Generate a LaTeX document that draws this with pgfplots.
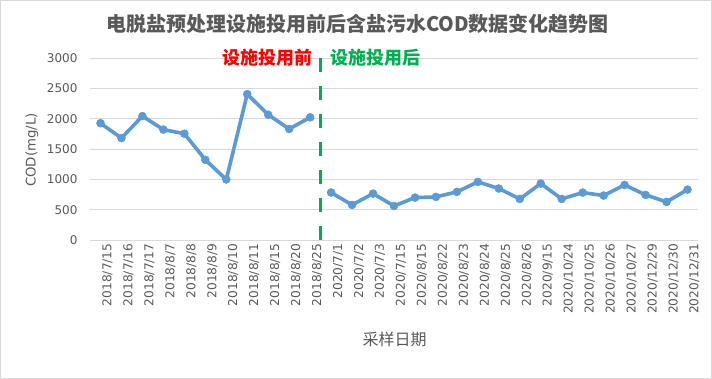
\documentclass[border=0pt]{standalone}
\usepackage{pgfplots}
\pgfplotsset{compat=1.18}
\usepackage{fontspec}
\setmainfont{DejaVu Sans}
\newfontfamily\cjk{Noto Sans CJK SC}
\definecolor{labelgray}{HTML}{595959}
\definecolor{gridgray}{HTML}{D9D9D9}
\definecolor{tickgray}{HTML}{C8C8C8}
\definecolor{lineblue}{HTML}{5B9BD5}
\definecolor{xlgreen}{HTML}{00B050}
\definecolor{xlred}{HTML}{FF0000}
\begin{document}
\begin{tikzpicture}
\useasboundingbox (0,0) rectangle (712pt,379pt);
\draw[gridgray, line width=0.8pt] (0.5pt,0.5pt) rectangle (711.5pt,378.5pt);
\begin{axis}[
  at={(90pt,139pt)}, anchor=south west,
  scale only axis, width=608pt, height=182pt,
  xmin=-0.5, xmax=28.5, ymin=0, ymax=3000,
  clip=false,
  axis x line*=bottom, axis y line*=left,
  x axis line style={draw=gridgray, line width=0.8pt, -},
  y axis line style={draw=none},
  ytick={0,500,...,3000},
  ytick style={draw=none},
  ymajorgrids, grid style={draw=gridgray, line width=0.8pt},
  /pgf/number format/assume math mode=true,
  /pgf/number format/1000 sep={},
  yticklabel style={font=\fontsize{12}{13}\selectfont, text=labelgray, xshift=-9pt},
  xtick={0,...,28},
  xtick style={draw=none},
  xticklabels={2018/7/15,2018/7/16,2018/7/17,2018/8/7,2018/8/8,2018/8/9,2018/8/10,2018/8/11,2018/8/15,2018/8/20,2018/8/25,2020/7/1,2020/7/2,2020/7/3,2020/7/15,2020/8/15,2020/8/22,2020/8/23,2020/8/24,2020/8/25,2020/8/26,2020/9/15,2020/10/24,2020/10/25,2020/10/26,2020/10/27,2020/12/29,2020/12/30,2020/12/31},
  xticklabel style={rotate=90, anchor=east, font=\fontsize{12.2}{13}\selectfont, text=labelgray, yshift=-7pt},
  extra x ticks={-0.5,0.5,...,28.5},
  extra x tick labels={},
  extra x tick style={tick align=outside, major tick length=5pt, tick style={draw=tickgray, line width=0.8pt}, grid=none},
]
\addplot[color=lineblue, line width=3.6pt, line join=round, mark=*, mark size=4pt, mark options={solid, fill=lineblue, draw=lineblue, line width=0.5pt}]
  coordinates {(0,1925) (1,1680) (2,2042) (3,1820) (4,1752) (5,1322) (6,998) (7,2405) (8,2065) (9,1830) (10,2022)};
\addplot[color=lineblue, line width=3.6pt, line join=round, mark=*, mark size=4pt, mark options={solid, fill=lineblue, draw=lineblue, line width=0.5pt}]
  coordinates {(11,782) (12,578) (13,765) (14,561) (15,699) (16,710) (17,793) (18,958) (19,848) (20,677) (21,930) (22,677) (23,782) (24,732) (25,908) (26,743) (27,628) (28,831)};
\addplot[color=xlgreen, line width=3pt, dash pattern=on 14pt off 14pt, forget plot]
  coordinates {(10.5,3000) (10.5,0)};
\node[anchor=east, text=xlred, font=\cjk\bfseries\fontsize{18}{20}\selectfont, inner sep=0pt, xshift=-8pt] at (axis cs:10.5,3000) {设施投用前};
\node[anchor=west, text=xlgreen, font=\cjk\bfseries\fontsize{18}{20}\selectfont, inner sep=0pt, xshift=10pt] at (axis cs:10.5,3000) {设施投用后};
\end{axis}
\node[text=labelgray, font=\cjk\bfseries\fontsize{20}{22}\selectfont, inner sep=0pt] at (357.5pt,355pt) {电脱盐预处理设施投用前后含盐污水COD数据变化趋势图};
\node[text=labelgray, font=\cjk\fontsize{16}{18}\selectfont, inner sep=0pt] at (394.5pt,40pt) {采样日期};
\node[text=labelgray, font=\fontsize{13.3}{15}\selectfont, inner sep=0pt, rotate=90] at (32pt,229pt) {COD(mg/L)};
\end{tikzpicture}
\end{document}
